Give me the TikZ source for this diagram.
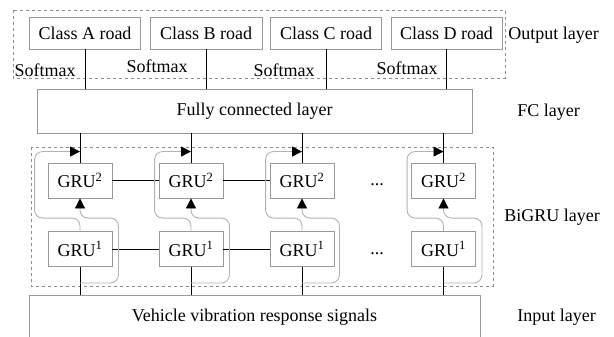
\documentclass[tikz,border=0pt]{standalone}
\usepackage{fontspec}
\setmainfont{Liberation Serif}
\usetikzlibrary{arrows.meta}

\begin{document}
\begin{tikzpicture}[x=1pt,y=-1pt,node distance=111pt,line width=0.9pt,
                    font=\fontsize{18}{22}\selectfont]

  \tikzstyle{box}=[draw=black!40,inner sep=0pt,minimum height=32pt]
  \tikzstyle{gru}=[box,minimum width=64pt,minimum height=35pt]
  \tikzstyle{lbl}=[inner sep=0pt]
  \tikzstyle{fb}=[draw=black!30,rounded corners=8pt,
                  -{Triangle[length=10pt,width=10pt,color=black]}]
  \tikzstyle{group}=[draw=black!45,dashed,line width=0.7pt]

  \useasboundingbox (0,0) rectangle (614,337);

  \draw[group] (13,10) rectangle (505,78);
  \draw[group] (31,147) rectangle (493,286);

  \node[box,minimum width=111pt] (ca) at (85,33)    {Class A road};
  \node[box,minimum width=112pt] (cb) at (206,33)   {Class B road};
  \node[box,minimum width=111pt] (cc) at (326,33)   {Class C road};
  \node[box,minimum width=111pt] (cd) at (446.5,33) {Class D road};

  \node[box,minimum width=435pt,minimum height=44pt] (fc) at (254.5,111) {Fully connected layer};

  \node[gru]  (g2a) at (80,180.5)    {GRU\textsuperscript{2}};
  \node[gru]  (g2b) [right of=g2a]   {GRU\textsuperscript{2}};
  \node[gru]  (g2c) [right of=g2b]   {GRU\textsuperscript{2}};
  \node[gru]  (g2d) at (443.5,180.5) {GRU\textsuperscript{2}};
  \node[gru]  (g1a) at (80,249)      {GRU\textsuperscript{1}};
  \node[gru]  (g1b) [right of=g1a]   {GRU\textsuperscript{1}};
  \node[gru]  (g1c) [right of=g1b]   {GRU\textsuperscript{1}};
  \node[gru]  (g1d) at (443.5,249)   {GRU\textsuperscript{1}};
  \node       (d2)  at (377,185)     {...};
  \node       (d1)  at (377,254)     {...};

  \node[box,minimum width=451pt,minimum height=45pt] (inp) at (254.5,317.5) {Vehicle vibration response signals};

  \node[lbl,anchor=east] (sma) at (76,70)  {Softmax};
  \node[lbl,anchor=east] (smb) at (188,66) {Softmax};
  \node[lbl,anchor=east] (smc) at (315,70) {Softmax};
  \node[lbl,anchor=east] (smd) at (438,68) {Softmax};

  \node[lbl,anchor=west] (lo) at (508,35)  {Output layer};
  \node[lbl,anchor=west] (lf) at (517,112) {FC layer};
  \node[lbl,anchor=west] (lb) at (504,217) {BiGRU layer};
  \node[lbl,anchor=west] (li) at (517,317) {Input layer};

  \draw (ca.south) -- (ca.south |- fc.north);
  \draw (cb.south) -- (cb.south |- fc.north);
  \draw (cc.south) -- (cc.south |- fc.north);
  \draw (cd.south) -- (cd.south |- fc.north);

  \draw (fc.south -| g2a.north) -- (g2a.north);
  \draw (fc.south -| g2b.north) -- (g2b.north);
  \draw (fc.south -| g2c.north) -- (g2c.north);
  \draw (fc.south -| g2d.north) -- (g2d.north);

  \draw (g2a) -- (g2b);
  \draw (g2b) -- (g2c);
  \draw (g1a) -- (g1b);
  \draw (g1b) -- (g1c);

  \draw (inp.north -| g1a.south) -- (g1a.south);
  \draw (inp.north -| g1b.south) -- (g1b.south);
  \draw (inp.north -| g1c.south) -- (g1c.south);
  \draw (inp.north -| g1d.south) -- (g1d.south);

  \draw[fb] ([yshift=-16pt]g1a.south) -| ([shift={(6pt,13pt)}]g1a.north east) -| (g2a.south);
  \draw[fb] ([yshift=-16pt]g1b.south) -| ([shift={(6pt,13pt)}]g1b.north east) -| (g2b.south);
  \draw[fb] ([yshift=-16pt]g1c.south) -| ([shift={(5pt,13pt)}]g1c.north east) -| (g2c.south);
  \draw[fb] ([yshift=-16pt]g1d.south) -| ([shift={(6pt,13pt)}]g1d.north east) -| (g2d.south);

  \draw[fb] (g1a.north) |- ([shift={(-13pt,13pt)}]g1a.north west) |- ([yshift=11pt]g2a.north);
  \draw[fb] (g1b.north) |- ([shift={(-4pt,13pt)}]g1b.north west)  |- ([yshift=11pt]g2b.north);
  \draw[fb] (g1c.north) |- ([shift={(-4pt,13pt)}]g1c.north west)  |- ([yshift=11pt]g2c.north);
  \draw[fb] (g1d.north) |- ([shift={(-4pt,13pt)}]g1d.north west)  |- ([yshift=11pt]g2d.north);
\end{tikzpicture}
\end{document}
